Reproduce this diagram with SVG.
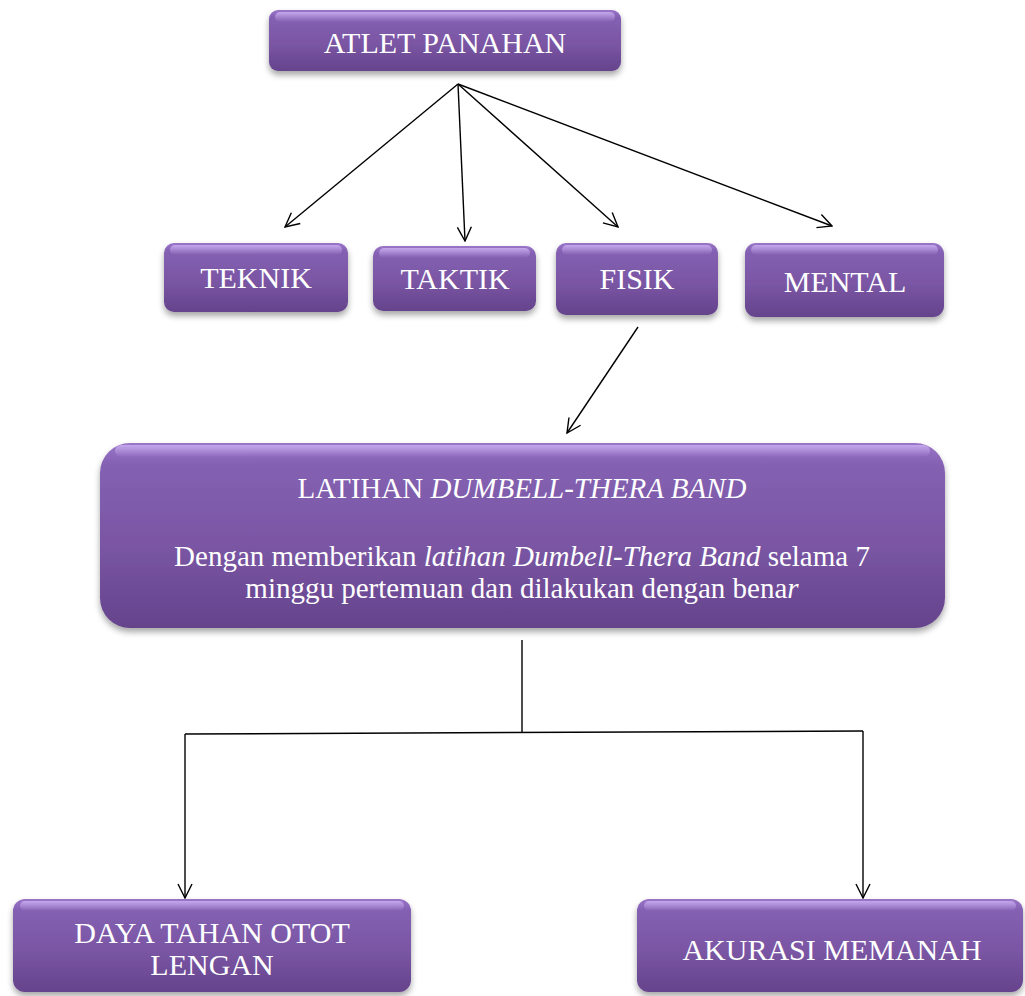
<svg xmlns="http://www.w3.org/2000/svg" width="1025" height="996" viewBox="0 0 1025 996">
<style>
.box{fill:url(#pg);filter:url(#sh);}
.hl{fill:url(#hg);}
.t{font-family:'Liberation Serif','Times New Roman',serif;font-size:30px;fill:#ffffff;text-anchor:middle;}
.s{font-size:29px;}
.c{stroke:#000;stroke-width:1.4;fill:none;}
.a{marker-end:url(#arr);}
</style>
<defs>
<linearGradient id="pg" x1="0" y1="0" x2="0" y2="1">
<stop offset="0" stop-color="#9a75c8"/>
<stop offset="0.12" stop-color="#8460b2"/>
<stop offset="0.55" stop-color="#7a56a4"/>
<stop offset="1" stop-color="#65438c"/>
</linearGradient>
<linearGradient id="hg" x1="0" y1="0" x2="0" y2="1">
<stop offset="0" stop-color="#c8acef" stop-opacity="0.9"/>
<stop offset="1" stop-color="#c8acef" stop-opacity="0"/>
</linearGradient>
<filter id="sh" x="-10%" y="-20%" width="120%" height="150%">
<feDropShadow dx="0" dy="4" stdDeviation="3" flood-color="#000" flood-opacity="0.35"/>
</filter>
<marker id="arr" viewBox="0 0 16 16" refX="15" refY="8" markerWidth="16" markerHeight="16" markerUnits="userSpaceOnUse" orient="auto">
<path d="M1,1 L15,8 L1,15" fill="none" stroke="#000" stroke-width="1.4"/>
</marker>
</defs>

<g id="connectors">
<line class="c a" x1="458" y1="84" x2="285" y2="227"/>
<line class="c a" x1="458" y1="84" x2="465" y2="241"/>
<line class="c a" x1="458" y1="84" x2="618" y2="227"/>
<line class="c a" x1="458" y1="84" x2="832" y2="226"/>
<line class="c a" x1="638" y1="327" x2="567" y2="433"/>
<line class="c" x1="522" y1="640" x2="522" y2="733"/>
<line class="c" x1="185" y1="734" x2="863" y2="731"/>
<line class="c a" x1="185" y1="734" x2="185" y2="898"/>
<line class="c a" x1="863" y1="731" x2="863" y2="898"/>
</g>

<g id="atlet">
<rect class="box" x="269" y="10" width="352" height="61" rx="9"/>
<rect class="hl" x="275" y="12" width="340" height="10" rx="5"/>
<text class="t" x="445" y="53">ATLET PANAHAN</text>
</g>

<g id="teknik">
<rect class="box" x="164" y="243" width="184" height="69" rx="10"/>
<rect class="hl" x="170" y="245" width="172" height="10" rx="5"/>
<text class="t" x="256" y="288">TEKNIK</text>
</g>

<g id="taktik">
<rect class="box" x="373" y="246" width="163" height="65" rx="10"/>
<rect class="hl" x="379" y="248" width="151" height="10" rx="5"/>
<text class="t" x="455" y="289">TAKTIK</text>
</g>

<g id="fisik">
<rect class="box" x="556" y="243" width="162" height="72" rx="10"/>
<rect class="hl" x="562" y="245" width="150" height="10" rx="5"/>
<text class="t" x="637" y="289">FISIK</text>
</g>

<g id="mental">
<rect class="box" x="745" y="243" width="199" height="74" rx="11"/>
<rect class="hl" x="751" y="245" width="187" height="10" rx="5"/>
<text class="t" x="845" y="292">MENTAL</text>
</g>

<g id="latihan">
<rect class="box" x="100" y="443" width="845" height="185" rx="30"/>
<rect class="hl" x="115" y="445" width="815" height="12" rx="6"/>
<text class="t s" x="522" y="498">LATIHAN <tspan font-style="italic">DUMBELL-THERA BAND</tspan></text>
<text class="t s" x="522" y="566">Dengan memberikan <tspan font-style="italic">latihan Dumbell-Thera Band</tspan> selama 7</text>
<text class="t s" x="522" y="598">minggu pertemuan dan dilakukan dengan bena<tspan font-style="italic">r</tspan></text>
</g>

<g id="daya">
<rect class="box" x="13" y="899" width="398" height="93" rx="12"/>
<rect class="hl" x="20" y="901" width="384" height="10" rx="5"/>
<text class="t" x="212" y="943">DAYA TAHAN OTOT</text>
<text class="t" x="212" y="975">LENGAN</text>
</g>

<g id="akurasi">
<rect class="box" x="637" y="899" width="386" height="93" rx="12"/>
<rect class="hl" x="644" y="901" width="372" height="10" rx="5"/>
<text class="t" x="832" y="960">AKURASI MEMANAH</text>
</g>
</svg>
